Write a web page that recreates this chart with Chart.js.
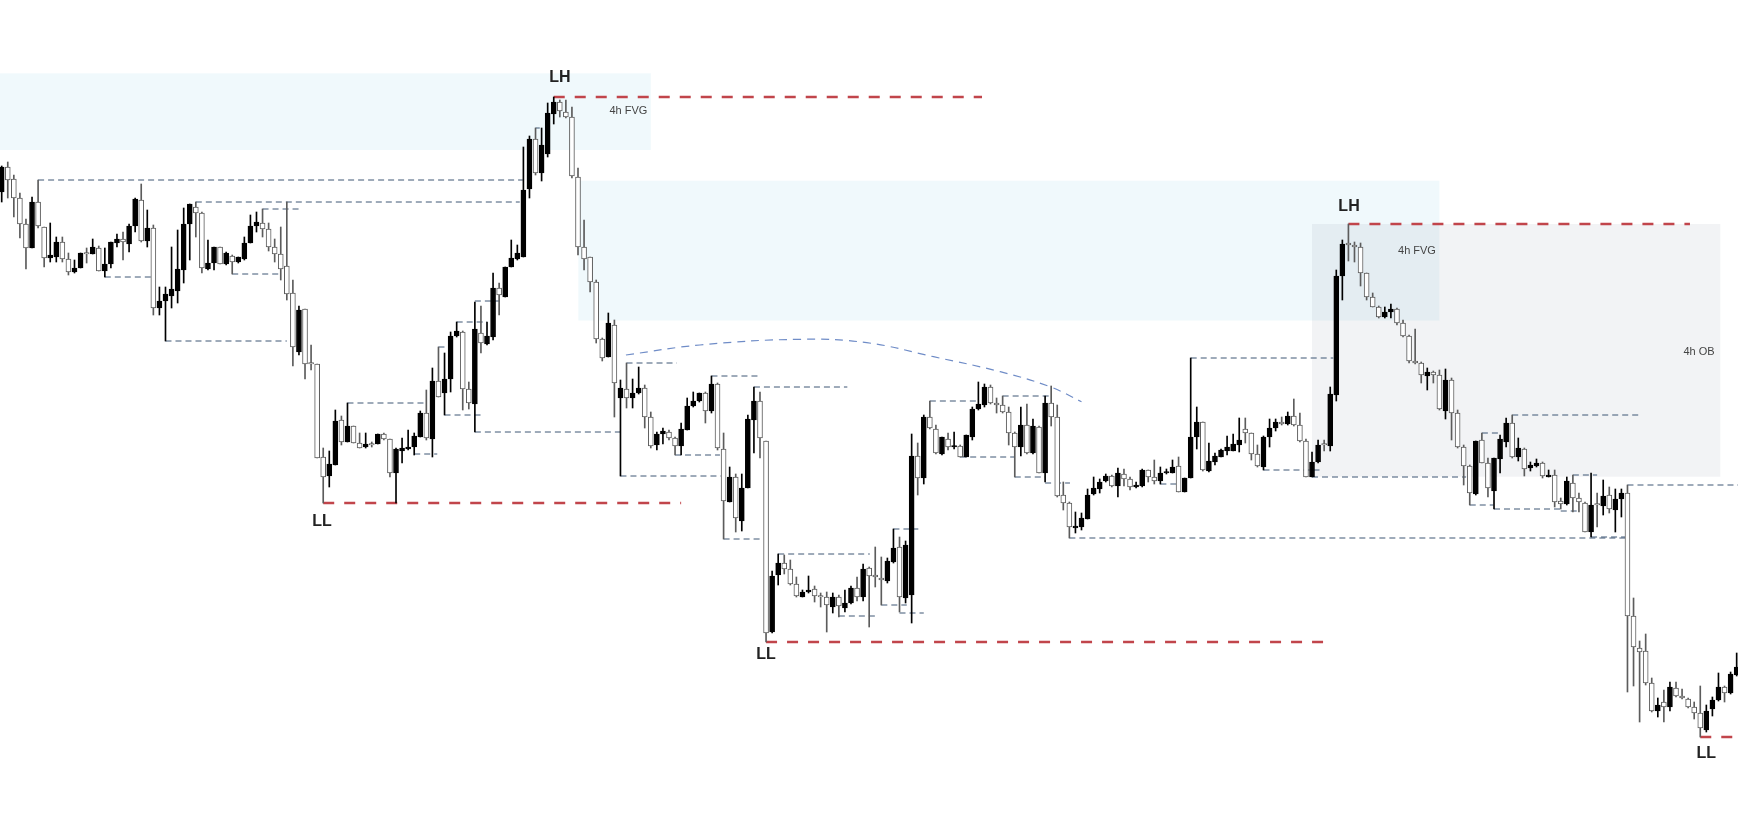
<!DOCTYPE html>
<html>
<head>
<meta charset="utf-8">
<script src="https://cdn.jsdelivr.net/npm/chart.js@4.4.1/dist/chart.umd.min.js"></script>
<style>
html,body{margin:0;padding:0;background:#ffffff;overflow:hidden;}
#wrap{width:1738px;height:824px;position:relative;}
</style>
</head>
<body>
<div id="wrap"><canvas id="c"></canvas></div>
<script>
// ---------- candle data (index = bar number, values in price units) ----------
const opens = [
632,657,645,626,600,576,622,597,566,567,
582,565,552,556,571,570,576,553,560,581,
585,580,598,624,583,596,516,523,528,533,
554,600,617,611,555,561,577,560,568,562,
565,581,598,601,595,577,570,558,531,472,
515,460,460,367,348,359,404,382,398,381,
377,379,380,390,385,351,373,375,377,387,
411,385,443,431,445,488,492,435,420,491,
480,487,536,527,557,565,567,635,685,651,
670,710,722,712,707,647,577,567,542,485,
467,499,426,435,426,431,436,407,379,390,
392,386,378,394,418,423,431,413,440,375,
322,347,303,336,404,423,383,192,249,261,
255,240,227,232,235,228,227,217,227,216,
221,236,227,256,249,246,243,262,277,226,
229,368,346,407,395,370,385,377,378,367,
387,415,419,437,421,419,412,391,377,399,
371,397,351,421,407,329,321,296,297,305,
330,335,343,348,338,350,345,337,338,354,
347,343,351,351,358,332,346,387,402,353,
362,367,373,373,379,395,391,370,357,387,
396,402,400,408,399,383,347,362,379,378,
429,548,581,579,577,551,527,517,507,512,
515,501,488,463,461,448,452,449,413,444,
411,377,358,330,384,361,333,365,382,401,
367,375,356,358,361,347,349,323,320,341,
326,321,292,319,318,329,314,325,331,208,
176,173,141,113,122,117,136,128,125,117,
111,94,115,124,137,131,149
];
const highs = [
658,662,649,631,605,627,644,597,601,587,
587,571,564,571,576,585,578,576,582,590,
592,600,626,640,614,599,537,537,577,594,
616,620,622,612,584,577,577,572,569,567,
587,609,612,615,601,585,597,622,544,518,
515,479,460,376,373,414,408,421,398,391,
391,382,390,391,385,376,386,394,391,413,
434,456,477,471,492,502,493,442,522,518,
502,551,541,557,584,579,677,688,696,696,
721,727,724,724,717,656,604,567,544,486,
511,504,444,461,445,457,439,412,392,396,
394,387,401,426,432,431,432,448,441,391,
357,350,350,409,437,432,383,253,270,269,
264,247,234,248,238,231,232,231,229,234,
238,247,260,257,277,267,266,295,287,283,
390,381,409,423,399,387,391,392,379,389,
417,442,440,439,426,428,417,392,417,420,
405,398,428,438,419,342,322,312,311,335,
347,345,350,349,356,355,347,342,355,354,
364,357,355,364,367,346,466,417,402,381,
371,375,388,390,406,406,391,379,388,405,
405,407,412,425,411,385,372,384,384,437,
554,584,600,582,581,551,531,518,517,520,
516,504,489,495,462,456,453,454,455,446,
414,379,359,383,391,366,366,389,406,409,
386,376,362,365,362,354,354,326,347,349,
331,322,351,331,344,337,335,335,339,226,
183,190,146,126,134,142,142,135,126,122,
138,119,127,151,138,152,171
];
const lows = [
622,626,607,586,555,576,596,557,562,562,
562,549,551,556,561,570,553,547,556,577,
564,572,592,582,577,509,509,483,516,521,
541,564,587,551,554,554,560,559,550,561,
564,581,592,587,573,562,544,524,458,469,
445,454,366,321,337,359,379,382,381,376,
376,377,380,384,347,321,361,374,369,387,
384,367,427,409,432,487,414,415,392,471,
479,484,509,527,557,564,567,626,649,643,
667,700,707,706,646,569,554,532,481,463,
467,407,348,416,416,430,396,376,374,380,
384,369,369,394,417,422,401,411,374,285,
322,292,293,336,371,366,182,191,239,250,
239,227,227,231,222,217,192,211,207,212,
220,223,223,197,237,219,241,261,212,221,
201,329,340,395,370,369,374,375,367,367,
384,414,417,420,411,411,379,347,368,370,
370,351,342,398,327,314,286,291,294,305,
329,331,342,337,327,338,334,336,337,342,
340,340,350,351,332,332,346,375,353,352,
359,367,369,373,372,381,364,357,354,377,
393,399,399,398,382,347,347,361,373,373,
423,524,563,562,538,524,517,506,506,506,
499,487,461,460,441,434,441,414,405,384,
376,339,319,329,361,327,315,351,377,366,
363,348,353,357,346,347,317,315,319,312,
312,292,287,297,309,311,292,307,132,138,
102,139,112,107,102,113,127,125,116,105,
87,92,108,123,122,130,148
];
const closes = [
657,644,626,600,576,622,598,566,569,582,
565,552,556,571,570,577,553,560,582,585,
582,598,625,583,596,516,523,530,535,555,
600,620,611,556,561,577,560,571,562,567,
581,598,602,595,577,570,555,530,477,514,
460,460,366,347,360,403,382,398,381,376,
380,379,390,385,351,375,376,377,388,411,
386,443,427,445,488,493,435,421,495,481,
488,536,529,557,566,571,634,685,651,679,
711,722,713,707,648,577,565,542,485,466,
501,441,436,426,431,436,407,378,390,393,
386,378,395,418,423,431,413,440,376,323,
347,306,336,405,423,386,191,248,261,255,
240,228,232,234,228,227,219,227,218,221,
236,227,255,248,247,244,263,276,227,279,
368,346,407,396,371,387,377,378,367,389,
415,420,437,421,419,412,391,377,399,371,
398,351,421,407,328,321,297,298,306,329,
336,342,348,338,351,345,337,339,354,347,
343,351,352,357,332,346,387,402,354,363,
368,374,377,380,384,391,370,358,387,396,
402,400,408,399,383,347,362,379,379,430,
548,580,579,577,551,527,517,507,512,515,
501,488,463,461,449,452,449,415,444,411,
377,358,331,383,361,336,366,385,401,367,
376,355,359,361,348,349,322,320,343,326,
322,292,319,319,328,315,325,331,208,177,
172,141,113,119,117,137,128,126,117,111,
96,113,124,137,131,150,157
];

// ---------- structure levels: [price, startBar, endBar] ----------
const liquidityLevels = [
  [644,6,85.9],[622,32,85.4],[615,43,49.3],[547,17,24.8],[550,38,45.9],[483,27,47.0],
  [421,57,70.1],[370,68,71.8],[409,73,79.4],[477,72,73.2],[502,75,80.0],[523,78,82.1],
  [392,78,102.2],[696,88,88.7],[348,102,118.7],[369,111,118.4],[461,103,111.3],
  [448,117,125.0],[437,124,139.4],[285,119,125.3],[270,128,143.1],[208,138,144.0],
  [295,147,151.1],[219,145,149.2],[211,148,152.0],[423,153,161.0],[367,158,167.0],
  [428,165,172.8],[347,167,172.0],[341,172,176.1],[286,176,267.6],[340,191,194.3],
  [466,196,219.5],[354,208,217.3],[347,216,241.4],[319,242,245.9],[315,246,256.9],
  [391,244,247.0],[409,249,269.8],[349,259,263.0],[313,257,260.2],[287,262,267.6],
  [339,268,286.3]
];
const swingLevels = [
  [727,91,161.6],[321,53,112.0],[182,126,218.3],[600,222,278.3],[87,280,286.3]
];
// arc (rounded top) traced through these bar/price points
const arcBars   = [102.9,115.1,131.6,142.6,153.6,164.6,172.8,178.0];
const arcPrices = [469,479,484.7,481.3,467.3,452.3,437.3,422.3];

// ---------- zones: [fromBar, toBar, lowPrice, highPrice] ----------
const fvgZones = [[-0.28,107.0,674,750.7],[95.05,237.0,503.5,643.3]];
const obZones  = [[216.0,283.3,347.3,600]];

// ---------- annotations: [text, bar, price] ----------
const swingLabels = [["LH",92.0,746.5],["LL",52.8,302],["LL",126.0,169],["LH",222.1,617],["LL",281.0,70.5]];
const zoneLabels  = [["4h FVG",103.3,713],["4h FVG",233.3,573],["4h OB",279.8,472.5]];

// ---------- build ----------
const DOWN_GREY = '#5c5c5c';
const isUp = i => closes[i] > opens[i];
const wickData = opens.map((o,i)=>({x:i, y:[lows[i], highs[i]]}));
const bodyData = opens.map((o,i)=>({x:i, y:[Math.min(o,closes[i]), Math.max(o,closes[i])]}));

const datasets = [
  {
    type:'bar', label:'body', data: bodyData, order:0, grouped:false,
    barThickness:5, minBarLength:1.5, borderSkipped:false, borderWidth:1,
    backgroundColor: ctx => isUp(ctx.dataIndex) ? '#000000' : '#ffffff',
    borderColor: ctx => isUp(ctx.dataIndex) ? '#000000' : DOWN_GREY
  },
  {
    type:'bar', label:'wick', data: wickData, order:1, grouped:false,
    barThickness:1, borderWidth:0,
    backgroundColor: ctx => isUp(ctx.dataIndex) ? '#000000' : DOWN_GREY
  }
];
liquidityLevels.forEach(l=>{
  datasets.push({type:'line', data:[{x:l[1],y:l[0]},{x:l[2],y:l[0]}], order:2,
    borderColor:'#3e5674', borderWidth:1, borderDash:[6,4], pointRadius:0, tension:0});
});
swingLevels.forEach(l=>{
  datasets.push({type:'line', data:[{x:l[1],y:l[0]},{x:l[2],y:l[0]}], order:2,
    borderColor:'#c1454b', borderWidth:2.5, borderDash:[11,10], pointRadius:0, tension:0});
});
datasets.push({type:'line', data: arcBars.map((b,i)=>({x:b, y:arcPrices[i]})), order:2,
  borderColor:'#6f8cc7', borderWidth:1.2, borderDash:[8,6], pointRadius:0, tension:0.4});

const zonePlugin = {
  id:'zones',
  beforeDatasetsDraw(chart){
    const {ctx, scales:{x,y}} = chart;
    ctx.save();
    const drawZ = (z, color) => {
      const x0 = x.getPixelForValue(z[0]), x1 = x.getPixelForValue(z[1]);
      const y0 = y.getPixelForValue(z[3]), y1 = y.getPixelForValue(z[2]);
      ctx.fillStyle = color;
      ctx.fillRect(x0, y0, x1-x0, y1-y0);
    };
    fvgZones.forEach(z=>drawZ(z,'rgba(155,215,235,0.15)'));
    obZones.forEach(z=>drawZ(z,'rgba(125,135,155,0.10)'));
    ctx.restore();
  },
  afterDatasetsDraw(chart){
    const {ctx, scales:{x,y}} = chart;
    ctx.save();
    ctx.textAlign='center'; ctx.textBaseline='middle';
    ctx.fillStyle='#222222';
    ctx.font='bold 16px "Liberation Sans", Arial, sans-serif';
    swingLabels.forEach(l=>ctx.fillText(l[0], x.getPixelForValue(l[1]), y.getPixelForValue(l[2])));
    ctx.fillStyle='#444444';
    ctx.font='11px "Liberation Sans", Arial, sans-serif';
    zoneLabels.forEach(l=>ctx.fillText(l[0], x.getPixelForValue(l[1]), y.getPixelForValue(l[2])));
    ctx.restore();
  }
};

new Chart(document.getElementById('c'), {
  type:'bar',
  data:{datasets},
  options:{
    responsive:true, maintainAspectRatio:false, animation:false, devicePixelRatio:1,
    layout:{padding:0},
    plugins:{legend:{display:false}, tooltip:{enabled:false}},
    scales:{
      x:{type:'linear', min:-0.28, max:286.22, offset:false, display:false, grid:{display:false}},
      y:{type:'linear', min:0, max:824, display:false, grid:{display:false}}
    }
  },
  plugins:[zonePlugin]
});
</script>
</body>
</html>
